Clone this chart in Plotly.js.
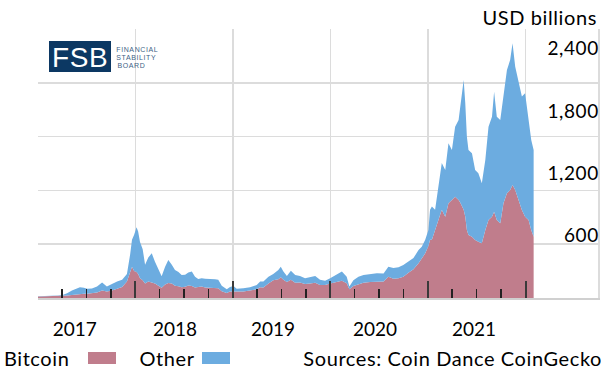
<!DOCTYPE html>
<html>
<head>
<meta charset="utf-8">
<script src="https://cdn.plot.ly/plotly-3.0.1.min.js"></script>
<style>
html,body{margin:0;padding:0;background:#fff;}
#chart{width:601px;height:376px;}
#chart .annotation-text, #chart .xtick text, #chart .ytick text { letter-spacing: 0.6px; }
</style>
</head>
<body>
<div id="chart"></div>
<script>
const dates = [
'2017-01-01','2017-01-27','2017-02-22','2017-03-17','2017-04-05','2017-04-20','2017-05-08','2017-05-27','2017-06-07','2017-06-22',
'2017-07-04','2017-07-22','2017-08-10','2017-08-29','2017-09-16','2017-10-05','2017-10-24','2017-11-12','2017-11-30','2017-12-12',
'2017-12-19','2017-12-27','2018-01-05','2018-01-11','2018-01-18','2018-01-28','2018-02-06','2018-02-18','2018-03-03','2018-03-15',
'2018-03-28','2018-04-09','2018-04-22','2018-05-04','2018-05-17','2018-05-29','2018-06-11','2018-06-23','2018-07-06','2018-07-18',
'2018-07-31','2018-08-12','2018-08-24','2018-09-06','2018-09-19','2018-10-07','2018-10-26','2018-11-07','2018-11-20','2018-12-09',
'2018-12-21','2019-01-03','2019-01-15','2019-02-09','2019-03-06','2019-03-31','2019-04-13','2019-04-25','2019-05-14','2019-06-01',
'2019-06-20','2019-06-29','2019-07-09','2019-07-22','2019-08-06','2019-08-22','2019-09-09','2019-09-28','2019-10-17','2019-11-05',
'2019-11-23','2019-12-12','2019-12-31','2020-01-25','2020-02-13','2020-03-02','2020-03-12','2020-03-27','2020-04-15','2020-05-04',
'2020-05-29','2020-06-23','2020-07-18','2020-08-05','2020-08-24','2020-09-12','2020-09-30','2020-10-19','2020-11-07','2020-11-26',
'2020-12-08','2020-12-21','2021-01-02','2021-01-08','2021-01-15','2021-01-27','2021-02-09','2021-02-21','2021-03-06','2021-03-18',
'2021-03-31','2021-04-12','2021-04-25','2021-05-01','2021-05-14','2021-05-20','2021-05-26','2021-06-01','2021-06-14','2021-06-26',
'2021-07-08','2021-07-21','2021-08-03','2021-08-15','2021-08-28','2021-09-05','2021-09-15','2021-09-28','2021-10-10','2021-10-23',
'2021-11-04','2021-11-13','2021-11-23','2021-12-05','2021-12-18','2021-12-30','2022-01-12','2022-01-22','2022-01-31'
];
const bitcoin = [
14,15,17,19,20,25,30,36,40,42,
40,44,52,72,62,72,90,105,160,250,
300,260,250,230,190,170,140,160,150,140,
118,98,130,145,140,118,112,103,108,120,
115,100,105,110,100,100,98,95,65,48,
62,65,62,63,70,84,103,100,140,170,
180,200,175,155,175,148,150,135,140,148,
125,125,140,157,167,141,84,116,135,148,
155,157,158,205,185,190,205,244,276,334,
382,430,500,560,560,655,751,850,783,912,
944,976,944,920,850,783,655,607,590,558,
542,527,655,751,783,830,751,719,912,1008,
1040,1088,1040,944,847,783,751,655,590
];
const other = [
2,3,4,6,12,20,42,59,63,56,
48,48,58,78,48,63,70,70,70,170,
260,350,430,410,350,300,180,230,280,210,
152,112,170,221,180,152,138,118,117,125,
139,105,77,80,85,85,82,80,53,37,
43,50,26,30,33,41,57,58,65,62,
90,100,80,57,88,74,62,55,60,64,
50,40,50,73,87,64,26,56,70,74,
77,81,77,97,105,105,113,106,109,128,
112,130,155,290,320,195,319,450,450,578,
481,674,770,923,1250,1092,898,818,803,675,
658,577,674,899,963,1157,995,995,1027,1188,
1252,1364,1187,1155,1092,1188,963,866,835
];
const seriesNames = ['Bitcoin','Other'];
const yearLabels = ['2017','2018','2019','2020','2021'];
const yTickValues = [600,1200,1800,2400];
const yTickText = ['600','1,200','1,800','2,400'];

const colBtc = '#C07D8C';
const colOther = '#6CACE0';
const FONT = 'Lato, "Open Sans", sans-serif';

const traces = [
  {x: dates, y: bitcoin, name: seriesNames[0], type: 'scatter', mode: 'lines', stackgroup: 'one',
   line: {width: 0, color: colBtc}, fillcolor: colBtc, xaxis: 'x', yaxis: 'y'},
  {x: dates, y: other, name: seriesNames[1], type: 'scatter', mode: 'lines', stackgroup: 'one',
   line: {width: 0, color: colOther}, fillcolor: colOther, xaxis: 'x', yaxis: 'y'},
  // empty helper traces so the overlay axes (grid, tick marks, year labels) are drawn
  {x: [], y: [], type: 'scatter', mode: 'none', xaxis: 'x2', yaxis: 'y', hoverinfo: 'skip'},
  {x: [], y: [], type: 'scatter', mode: 'none', xaxis: 'x3', yaxis: 'y', hoverinfo: 'skip'},
  {x: [], y: [], type: 'scatter', mode: 'none', xaxis: 'x4', yaxis: 'y', hoverinfo: 'skip'},
  {x: [], y: [], type: 'scatter', mode: 'none', xaxis: 'x', yaxis: 'y2', hoverinfo: 'skip'}
];

const xRange = ['2017-01-01', '2022-09-29'];
const px = v => (v - 38) / 560;
const py = v => (298 - v) / 269;

const quarterTicks = [];
for (let yr = 2017; yr <= 2021; yr++) {
  ['04', '07', '10'].forEach(m => quarterTicks.push(yr + '-' + m + '-01'));
}

const layout = {
  width: 601, height: 376,
  margin: {l: 38, r: 3, t: 29, b: 78, pad: 0},
  paper_bgcolor: '#fff', plot_bgcolor: 'rgba(0,0,0,0)',
  showlegend: false,
  font: {family: FONT, size: 19, color: '#000'},
  xaxis: {
    type: 'date', range: xRange, showgrid: true, gridcolor: '#dcdcdc', gridwidth: 1.5,
    tickmode: 'array', tickvals: ['2018-01-01','2019-01-01','2020-01-01','2021-01-01','2022-01-01'],
    ticks: '', showticklabels: false, zeroline: false, showline: false,
    layer: 'below traces'
  },
  xaxis2: {
    type: 'date', range: xRange, overlaying: 'x', anchor: 'y', showgrid: false, zeroline: false,
    tickmode: 'array', tickvals: ['2017-01-01','2018-01-01','2019-01-01','2020-01-01','2021-01-01','2022-01-01'],
    ticks: 'inside', ticklen: 17, tickwidth: 2, tickcolor: '#3a3a3a', showticklabels: false,
    showline: true, linecolor: '#d0d0d0', linewidth: 2,
    layer: 'above traces'
  },
  xaxis4: {
    type: 'date', range: xRange, overlaying: 'x', anchor: 'y', showgrid: false, zeroline: false,
    tickmode: 'array', tickvals: quarterTicks,
    ticks: 'inside', ticklen: 9, tickwidth: 1.5, tickcolor: '#222', showticklabels: false,
    showline: false, layer: 'above traces'
  },
  xaxis3: {
    type: 'date', range: xRange, overlaying: 'x', anchor: 'y', showgrid: false, zeroline: false,
    tickmode: 'array', tickvals: ['2017-05-19','2018-05-29','2019-05-31','2020-06-16','2021-06-22'],
    ticktext: yearLabels, ticks: '', ticklabelstandoff: 18,
    tickfont: {family: FONT, size: 19, color: '#000'}
  },
  yaxis: {
    range: [0, 2590], side: 'right', showgrid: false, zeroline: false,
    tickmode: 'array', tickvals: yTickValues, ticktext: yTickText,
    ticks: '', ticklabelposition: 'inside',
    tickfont: {family: FONT, size: 19, color: '#000'},
    showline: true, linecolor: '#dcdcdc', linewidth: 1.5
  },
  yaxis2: {
    range: [0, 5], overlaying: 'y', side: 'left', showgrid: true, gridcolor: '#dcdcdc', gridwidth: 1.5,
    dtick: 1, showticklabels: false, ticks: '', zeroline: false, layer: 'below traces'
  },
  shapes: [
    {type: 'rect', xref: 'paper', yref: 'paper', x0: px(49), x1: px(111), y0: py(72), y1: py(41),
     fillcolor: '#0C3863', line: {width: 0}},
    {type: 'rect', xref: 'paper', yref: 'paper', x0: px(88), x1: px(116), y0: py(364), y1: py(352),
     fillcolor: colBtc, line: {width: 0}},
    {type: 'rect', xref: 'paper', yref: 'paper', x0: px(202), x1: px(230), y0: py(364), y1: py(352),
     fillcolor: colOther, line: {width: 0}}
  ],
  annotations: [
    {text: 'USD billions', xref: 'paper', yref: 'paper', x: px(595), y: py(17), xanchor: 'right', yanchor: 'middle',
     showarrow: false, font: {family: FONT, size: 20, color: '#000'}},
    {text: 'FSB', xref: 'paper', yref: 'paper', x: px(80), y: py(57), xanchor: 'center', yanchor: 'middle',
     showarrow: false, font: {family: 'Liberation Sans, Arial, sans-serif', size: 28, color: '#fff'}},
    {text: 'FINANCIAL', xref: 'paper', yref: 'paper', x: px(117), y: py(49), xanchor: 'left', yanchor: 'middle',
     showarrow: false, font: {family: 'Liberation Sans, Arial, sans-serif', size: 7, color: '#3E5F86'}},
    {text: 'STABILITY', xref: 'paper', yref: 'paper', x: px(117), y: py(57), xanchor: 'left', yanchor: 'middle',
     showarrow: false, font: {family: 'Liberation Sans, Arial, sans-serif', size: 7, color: '#3E5F86'}},
    {text: 'BOARD', xref: 'paper', yref: 'paper', x: px(117), y: py(65), xanchor: 'left', yanchor: 'middle',
     showarrow: false, font: {family: 'Liberation Sans, Arial, sans-serif', size: 7, color: '#3E5F86'}},
    {text: seriesNames[0], xref: 'paper', yref: 'paper', x: px(4), y: py(358), xanchor: 'left', yanchor: 'middle',
     showarrow: false, font: {family: FONT, size: 20, color: '#000'}},
    {text: seriesNames[1], xref: 'paper', yref: 'paper', x: px(139), y: py(358), xanchor: 'left', yanchor: 'middle',
     showarrow: false, font: {family: FONT, size: 20, color: '#000'}},
    {text: 'Sources: Coin Dance CoinGecko', xref: 'paper', yref: 'paper', x: px(595), y: py(358), xanchor: 'right', yanchor: 'middle',
     showarrow: false, font: {family: FONT, size: 20, color: '#000'}}
  ]
};

Plotly.newPlot('chart', traces, layout, {staticPlot: true, displayModeBar: false});
</script>
</body>
</html>
